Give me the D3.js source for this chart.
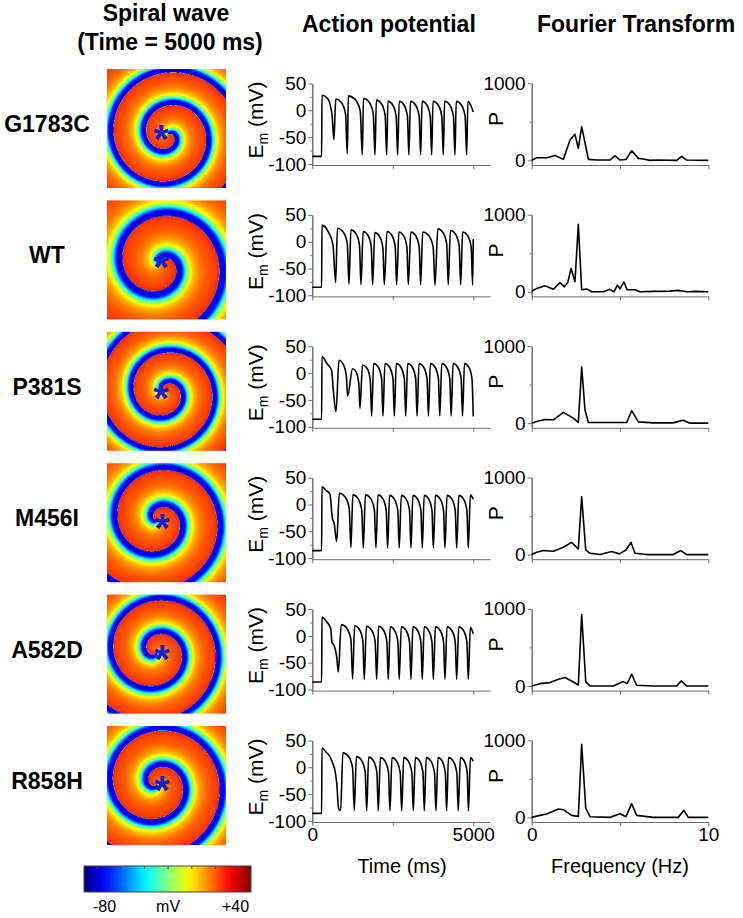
<!DOCTYPE html>
<html>
<head>
<meta charset="utf-8">
<script src="https://cdn.jsdelivr.net/npm/d3@7"></script>
<style>
body { margin: 0; background: #fff; }
svg text { font-family: "Liberation Sans", Arial, sans-serif; }
</style>
</head>
<body>
<svg id="fig" width="743" height="918"></svg>
<script>
// ---- data ----
var mutants = ["G1783C", "WT", "P381S", "M456I", "A582D", "R858H"];

var apTicks = [50, 0, -50, -100];
var apMinorTicks = [25, -25, -75];
var timeTicks = [0, 2500, 5000];
var timeTickLabels = ["0", "", "5000"];
var ftTicks = [0, 1000];
var ftMinorTicks = [500];
var freqTicks = [0, 5, 10];
var freqTickLabels = ["0", "", "10"];
var cbTicks = [-80, -60, -40, -20, 0, 20, 40];

// action potential traces, [time ms, Em mV]
var apG1783C = [[0,-86],[290,-86],[300,28],[485,21],[615,-10],[670,-55],
  [730,21],[908,14],[1033,-7],[1087,-81],[1120,27],[1336,20],[1488,-1],[1553,-83],
  [1590,22],[1768,15],[1893,-6],[1947,-83],[1990,19],[2150,12],[2262,-9],[2310,-83],
  [2350,17],[2500,10],[2605,-11],[2650,-83],[2700,17],[2850,10],[2955,-11],[3000,-83],
  [3050,17],[3208,10],[3319,-11],[3366,-83],[3410,17],[3559,10],[3663,-11],[3708,-83],
  [3750,17],[3910,10],[4022,-11],[4070,-83],[4110,17],[4271,10],[4384,-11],[4432,-83],
  [4470,17],[4632,10],[4746,-11],[4795,-83],[4835,17],[4918,10],[5000,-3]];
var apWT = [[0,-85],[290,-85],[300,31],[500,18],[640,-5],[726,-76],
  [780,25],[960,18],[1086,-3],[1140,-79],[1200,22],[1356,15],[1465,-6],[1512,-80],
  [1580,19],[1728,12],[1831,-9],[1875,-80],[1940,17],[2088,10],[2192,-11],[2237,-80],
  [2320,19],[2470,12],[2575,-9],[2620,-80],[2690,18],[2836,11],[2939,-10],[2983,-80],
  [3060,18],[3213,11],[3320,-10],[3366,-80],[3430,18],[3620,11],[3754,-10],[3811,-81],
  [3900,24],[4062,17],[4175,-4],[4224,-80],[4290,21],[4450,14],[4561,-7],[4609,-80],
  [4670,18],[4826,11],[4935,-10],[4982,-81],[5000,5]];
var apP381S = [[0,-86],[290,-86],[300,31],[450,18],[600,5],[650,-30],[736,-72],
  [829,24],[964,16],[1057,-5],[1098,-43],[1250,8],[1365,2],[1445,-20],[1480,-66],
  [1560,15],[1700,9],[1800,-12],[1843,-80],[1905,18],[2050,11],[2152,-10],[2196,-80],
  [2256,18],[2402,11],[2505,-10],[2549,-80],[2609,18],[2755,11],[2858,-10],[2902,-80],
  [2962,18],[3108,11],[3211,-10],[3255,-80],[3315,18],[3461,11],[3564,-10],[3608,-80],
  [3668,18],[3814,11],[3917,-10],[3961,-80],[4021,18],[4167,11],[4270,-10],[4314,-80],
  [4374,18],[4520,11],[4623,-10],[4667,-80],[4727,18],[4863,11],[4959,-10],[5000,-81]];
var apM456I = [[0,-86],[290,-86],[300,33],[420,27],[549,19],[620,-24],[682,-36],[757,-69],
  [840,21],[1020,14],[1146,-7],[1200,-80],[1260,18],[1422,11],[1535,-10],[1584,-81],
  [1650,18],[1813,11],[1928,-10],[1977,-81],[2040,18],[2190,11],[2295,-10],[2340,-81],
  [2400,17],[2550,10],[2655,-11],[2700,-81],[2765,17],[2915,10],[3020,-11],[3065,-81],
  [3125,17],[3271,10],[3373,-11],[3417,-81],[3475,17],[3617,10],[3717,-11],[3760,-81],
  [3825,17],[3973,10],[4077,-11],[4121,-81],[4185,17],[4335,10],[4440,-11],[4485,-81],
  [4550,17],[4698,10],[4802,-11],[4846,-81],[4910,18],[5000,10]];
var apA582D = [[0,-86],[290,-86],[300,35],[450,26],[570,14],[615,-13],[660,-16],[760,-40],[808,-67],
  [900,21],[1076,14],[1199,-7],[1252,-80],[1315,19],[1465,12],[1570,-9],[1615,-81],
  [1680,18],[1840,11],[1952,-10],[2000,-81],[2060,18],[2210,11],[2315,-10],[2360,-81],
  [2420,17],[2560,10],[2658,-11],[2700,-81],[2765,17],[2915,10],[3020,-11],[3065,-81],
  [3125,17],[3271,10],[3373,-11],[3417,-81],[3475,17],[3617,10],[3717,-11],[3760,-81],
  [3825,17],[3973,10],[4077,-11],[4121,-81],[4185,17],[4335,10],[4440,-11],[4485,-81],
  [4550,17],[4698,10],[4802,-11],[4846,-81],[4910,16],[5000,4]];
var apR858H = [[0,-86],[290,-86],[300,36],[430,28],[549,20],[651,5],[690,-2],[760,-30],[820,-78],[880,-80],
  [950,27],[1127,20],[1251,-1],[1304,-80],[1370,20],[1530,13],[1642,-8],[1690,-81],
  [1750,19],[1900,12],[2005,-9],[2050,-81],[2115,18],[2264,11],[2368,-10],[2413,-81],
  [2475,18],[2625,11],[2731,-10],[2776,-81],[2840,18],[2988,11],[3092,-10],[3137,-81],
  [3200,18],[3340,11],[3437,-10],[3479,-81],[3540,18],[3690,11],[3796,-10],[3841,-81],
  [3905,18],[4038,11],[4132,-10],[4172,-81],[4230,18],[4382,11],[4488,-10],[4534,-81],
  [4600,18],[4725,11],[4812,-10],[4850,-81],[4912,18],[5000,11]];

// power spectra, [frequency Hz, P]
var ftG1783C = [[0,0],[0.28,34],[0.85,34],[1.32,64],[1.79,13],[2.17,264],[2.45,338],[2.64,156],
  [2.83,437],[3.21,13],[3.68,4],[4.43,4],[4.72,60],[5.0,4],[5.34,13],[5.66,125],[6.04,26],
  [6.32,17],[6.7,0],[7.08,4],[8.21,0],[8.49,52],[8.77,4],[10,0]];
var ftWT = [[0,9],[0.28,41],[0.75,78],[1.23,32],[1.6,119],[1.85,64],[2.04,119],[2.23,301],
  [2.45,132],[2.64,877],[2.83,27],[3.11,37],[3.4,0],[4.06,0],[4.43,32],[4.66,0],[4.85,87],
  [5.0,37],[5.22,128],[5.4,27],[5.85,27],[6.13,0],[6.89,5],[7.83,9],[8.3,18],[8.78,0],[9.34,5],[10,0]];
var ftP381S = [[0,0],[0.28,22],[0.75,48],[1.23,44],[1.79,140],[2.36,66],[2.64,9],[2.83,729],
  [3.02,170],[3.21,9],[5.38,9],[5.66,162],[6.04,17],[6.89,4],[8.0,4],[8.58,39],[8.96,0],[10,0]];
var ftM456I = [[0,0],[0.28,30],[0.66,52],[1.23,43],[1.79,95],[2.26,159],[2.64,73],[2.83,750],
  [3.06,60],[3.3,17],[3.87,0],[4.53,39],[4.96,9],[5.34,60],[5.62,159],[5.85,17],[6.51,0],
  [8.02,0],[8.44,52],[8.78,0],[10,0]];
var ftA582D = [[0,0],[0.47,30],[1.04,44],[1.51,87],[1.89,109],[2.26,65],[2.64,13],[2.83,927],
  [3.06,57],[3.3,0],[4.62,0],[5.19,57],[5.41,30],[5.66,152],[5.94,9],[6.89,0],[8.21,0],
  [8.46,65],[8.78,0],[10,0]];
var ftR858H = [[0,0],[0.47,26],[0.85,44],[1.51,109],[1.79,100],[2.26,26],[2.64,13],[2.83,948],
  [3.06,122],[3.3,9],[4.43,0],[5.0,48],[5.34,9],[5.66,178],[5.94,26],[6.89,0],[8.3,0],
  [8.62,91],[8.87,0],[10,0]];

var apTraces = [apG1783C, apWT, apP381S, apM456I, apA582D, apR858H];
var ftTraces = [ftG1783C, ftWT, ftP381S, ftM456I, ftA582D, ftR858H];

// spiral snapshot geometry (panel pixels): core centre, wavelength, arm angle
var spiralCx = [61, 53, 58, 51, 49, 50];
var spiralCy = [66, 64, 60, 57, 57, 58];
var spiralLambda = [33, 44, 32, 38, 34, 37];
var spiralTheta0 = [-0.9, -2.12, -2.945, -3.49, -4.685, -4.29];
var starX = [54, 54, 54, 55, 55, 55];
var starY = [61, 58, 57, 56, 55, 55];

// ---- layout ----
var rowStep = 131.4;
var panelX = 107, panelY = 69, panelSize = 119;
var axisColor = "#6b6b6b";

var svg = d3.select("#fig");

var xT = d3.scaleLinear().domain([0, 5520]).range([312.3, 490]);
var yV = d3.scaleLinear().domain([-102, 50]).range([165, 83.5]);
var xF = d3.scaleLinear().domain([0, 10]).range([531.7, 708.3]);
var yP = d3.scaleLinear().domain([-60, 1000]).range([165, 83.3]);
var cbX = d3.scaleLinear().domain([-91, 50]).range([84, 251]);

function clamp01(v) { return v < 0 ? 0 : (v > 1 ? 1 : v); }
function jet(t) {
  return [clamp01(1.5 - Math.abs(4 * t - 3)), clamp01(1.5 - Math.abs(4 * t - 2)), clamp01(1.5 - Math.abs(4 * t - 1))];
}
var vToT = d3.scaleLinear().domain([-91, 50]).range([0, 1]).clamp(true);

// membrane voltage across one cycle of the wave (phase 0 = just excited)
var wavePhase = [0, 0.08, 0.3, 0.45, 0.58, 0.66, 0.72, 0.77, 0.81, 0.85, 0.88, 1];
var waveVolt = [28, 24, 20, 15, 7, -3, -15, -30, -48, -68, -76, -76];
var waveScale = d3.scaleLinear().domain(wavePhase).range(waveVolt);
var waveLUT = d3.range(1025).map(function (i) { return waveScale(i / 1024); });

function spiralImage(k) {
  var S = 2, n = panelSize * S;
  var cv = document.createElement("canvas");
  cv.width = n; cv.height = n;
  var ctx = cv.getContext("2d");
  var img = ctx.createImageData(n, n);
  var cx = spiralCx[k], cy = spiralCy[k], lam = spiralLambda[k], th0 = spiralTheta0[k];
  for (var py = 0; py < n; py++) {
    for (var px = 0; px < n; px++) {
      var vs = 0;
      for (var sy = 0; sy < 2; sy++) {
        for (var sx = 0; sx < 2; sx++) {
          var x = (px + (sx + 0.5) / 2) / S, y = (py + (sy + 0.5) / 2) / S;
          var dx = x - cx, dy = y - cy;
          var r = Math.sqrt(dx * dx + dy * dy);
          var psi = (Math.atan2(dy, dx) - th0) / (2 * Math.PI) - r / lam;
          psi -= Math.floor(psi);
          vs += waveLUT[Math.round(psi * 1024)];
        }
      }
      var c = jet(vToT(vs / 4));
      var o = (py * n + px) * 4;
      img.data[o] = c[0] * 255; img.data[o + 1] = c[1] * 255; img.data[o + 2] = c[2] * 255; img.data[o + 3] = 255;
    }
  }
  ctx.putImageData(img, 0, 0);
  return cv.toDataURL();
}

function styleAxis(g) {
  g.selectAll("path, line").attr("stroke", axisColor);
  g.selectAll("text").attr("font-family", null).attr("font-size", 19).attr("fill", "#000");
}

// ---- titles ----
function title(x, y, anchor, txt) {
  svg.append("text").attr("x", x).attr("y", y).attr("text-anchor", anchor)
    .attr("font-weight", "bold").attr("font-size", 23).text(txt);
}
title(166, 21, "middle", "Spiral wave");
title(170, 50, "middle", "(Time = 5000 ms)");
title(302, 32, "start", "Action potential");
title(537, 32, "start", "Fourier Transform");

var apLine = d3.line().x(function (d) { return xT(d[0]); }).y(function (d) { return yV(d[1]); }).curve(d3.curveMonotoneX);
var ftLine = d3.line().x(function (d) { return xF(d[0]); }).y(function (d) { return yP(d[1]); });

mutants.forEach(function (name, i) {
  var off = i * rowStep;
  var last = i === mutants.length - 1;

  svg.append("text").attr("x", 47).attr("y", 132 + off).attr("text-anchor", "middle")
    .attr("font-weight", "bold").attr("font-size", 23).text(name);

  // spiral snapshot
  var sp = svg.append("g").attr("transform", "translate(" + panelX + "," + (panelY + off) + ")");
  sp.append("image").attr("width", panelSize).attr("height", panelSize)
    .attr("preserveAspectRatio", "none").attr("href", spiralImage(i));
  sp.append("text").attr("x", starX[i]).attr("y", starY[i] + 23).attr("text-anchor", "middle")
    .attr("font-weight", "bold").attr("font-size", 40).attr("fill", "#1c1cd2").text("*");

  // action potential
  var ap = svg.append("g").attr("transform", "translate(0," + off + ")");
  ap.append("g").attr("transform", "translate(312.3,0)")
    .call(d3.axisLeft(yV).tickValues(apMinorTicks).tickSize(2).tickSizeOuter(0).tickFormat(""))
    .call(styleAxis);
  ap.append("g").attr("transform", "translate(312.3,0)")
    .call(d3.axisLeft(yV).tickValues(apTicks).tickSize(4).tickSizeOuter(0).tickPadding(2)
      .tickFormat(function (d) { return String(d); }))
    .call(styleAxis);
  ap.append("g").attr("transform", "translate(0,165)")
    .call(d3.axisBottom(xT).tickValues(timeTicks).tickSize(4).tickSizeOuter(0).tickPadding(2)
      .tickFormat(function (d, j) { return last ? timeTickLabels[j] : ""; }))
    .call(styleAxis);
  ap.append("path").datum(apTraces[i]).attr("d", apLine)
    .attr("fill", "none").attr("stroke", "#000").attr("stroke-width", 1.6).attr("stroke-linejoin", "round");
  var yl = ap.append("text").attr("transform", "translate(263,120) rotate(-90)")
    .attr("text-anchor", "middle").attr("font-size", 21);
  yl.append("tspan").text("E");
  yl.append("tspan").attr("font-size", 14).attr("dy", 5).text("m");
  yl.append("tspan").attr("dy", -5).text(" (mV)");

  // fourier transform
  var ft = svg.append("g").attr("transform", "translate(0," + off + ")");
  ft.append("g").attr("transform", "translate(531.7,0)")
    .call(d3.axisLeft(yP).tickValues(ftMinorTicks).tickSize(2).tickSizeOuter(0).tickFormat(""))
    .call(styleAxis);
  ft.append("g").attr("transform", "translate(531.7,0)")
    .call(d3.axisLeft(yP).tickValues(ftTicks).tickSize(4).tickSizeOuter(0).tickPadding(2)
      .tickFormat(function (d) { return String(d); }))
    .call(styleAxis);
  ft.append("g").attr("transform", "translate(0,165)")
    .call(d3.axisBottom(xF).tickValues(freqTicks).tickSize(4).tickSizeOuter(0).tickPadding(2)
      .tickFormat(function (d, j) { return last ? freqTickLabels[j] : ""; }))
    .call(styleAxis);
  ft.append("path").datum(ftTraces[i]).attr("d", ftLine)
    .attr("fill", "none").attr("stroke", "#000").attr("stroke-width", 1.6).attr("stroke-linejoin", "round");
  ft.append("text").attr("transform", "translate(503,119) rotate(-90)")
    .attr("text-anchor", "middle").attr("font-size", 21).text("P");
});

// x axis titles
svg.append("text").attr("x", 402).attr("y", 873).attr("text-anchor", "middle").attr("font-size", 20).text("Time (ms)");
svg.append("text").attr("x", 620).attr("y", 873).attr("text-anchor", "middle").attr("font-size", 20).text("Frequency (Hz)");

// ---- colour bar ----
var grad = svg.append("defs").append("linearGradient").attr("id", "jetbar");
d3.range(0, 1.0001, 0.05).forEach(function (t) {
  var c = jet(t);
  grad.append("stop").attr("offset", t)
    .attr("stop-color", d3.rgb(c[0] * 255, c[1] * 255, c[2] * 255).toString());
});
svg.append("rect").attr("x", cbX(-91)).attr("y", 866).attr("width", cbX(50) - cbX(-91)).attr("height", 26)
  .attr("fill", "url(#jetbar)").attr("stroke", "#444").attr("stroke-width", 1);
svg.selectAll(".cbtick").data(cbTicks).enter().append("line")
  .attr("x1", function (d) { return cbX(d); }).attr("x2", function (d) { return cbX(d); })
  .attr("y1", 866).attr("y2", 869).attr("stroke", "#444");
svg.append("text").attr("x", cbX(-80) - 4).attr("y", 912).attr("font-size", 16).text("-80");
svg.append("text").attr("x", cbX(-20)).attr("y", 912).attr("text-anchor", "middle").attr("font-size", 16).text("mV");
svg.append("text").attr("x", cbX(40) + 10).attr("y", 912).attr("text-anchor", "end").attr("font-size", 16).text("+40");
</script>
</body>
</html>
